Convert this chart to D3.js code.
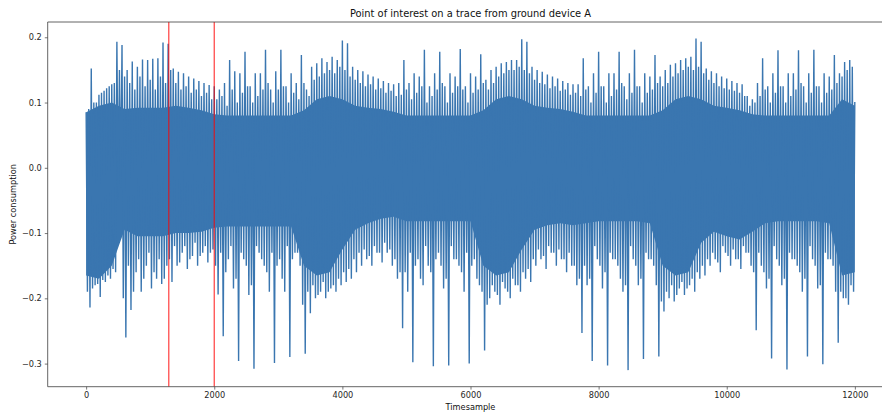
<!DOCTYPE html>
<html><head><meta charset="utf-8">
<script src="https://cdn.jsdelivr.net/npm/d3@7"></script>
<style>
body{margin:0;background:#fff}
svg{display:block;font-family:"DejaVu Sans",sans-serif}
</style>
</head><body>
<svg id="chart" width="882" height="414"></svg>
<script>
// ---------- data ----------
const chartTitle = "Point of interest on a trace from ground device A";
const xLabel = "Timesample";
const yLabel = "Power consumption";
const sampleCount = 12000;
const bucketSize = 80; // per bucket: peak @0, midTrough @20, midPeak @40, trough @60

// tallest upward excursion of each 80-sample bucket
const peaks = [
  0.085, 0.152, 0.100, 0.115, 0.122, 0.128, 0.193, 0.188,
  0.150, 0.163, 0.155, 0.166, 0.165, 0.167, 0.168, 0.192, 0.190,
  0.152, 0.147, 0.145, 0.140, 0.137, 0.133, 0.130, 0.127,
  0.125, 0.120, 0.130, 0.165, 0.148, 0.145, 0.178, 0.125, 0.145, 0.145, 0.181, 0.120, 0.148, 0.181, 0.125, 0.145, 0.130,
  0.173, 0.120, 0.155, 0.160, 0.168, 0.162, 0.170, 0.165, 0.195, 0.191,
  0.155, 0.150, 0.148, 0.143, 0.140, 0.137, 0.133, 0.130, 0.128, 0.130,
  0.165, 0.130, 0.145, 0.140, 0.181, 0.125, 0.145, 0.178, 0.125, 0.145, 0.140, 0.182, 0.125, 0.145, 0.140, 0.174,
  0.135, 0.150, 0.155, 0.160, 0.162, 0.165, 0.165, 0.197, 0.193,
  0.155, 0.150, 0.147, 0.143, 0.140, 0.137, 0.133, 0.130, 0.128, 0.128,
  0.168, 0.125, 0.145, 0.178, 0.125, 0.145, 0.145, 0.178, 0.125, 0.145, 0.181, 0.125, 0.145, 0.140, 0.173,
  0.140, 0.150, 0.158, 0.160, 0.165, 0.168, 0.170, 0.198, 0.193,
  0.152, 0.148, 0.145, 0.140, 0.137, 0.133, 0.130, 0.128, 0.110, 0.105,
  0.130, 0.168, 0.125, 0.145, 0.180, 0.125, 0.145, 0.145, 0.180, 0.125, 0.145, 0.181, 0.125, 0.145, 0.140, 0.173,
  0.145, 0.162, 0.165, 0.101
];

// secondary (fringe) upward excursion of each bucket
const midPeaks = [
  0.090, 0.100, 0.112, 0.118, 0.125, 0.130, 0.150, 0.140,
  0.130, 0.120, 0.140, 0.125, 0.135, 0.120, 0.140, 0.130, 0.150,
  0.130, 0.120, 0.125, 0.115, 0.120, 0.110, 0.115, 0.105,
  0.105, 0.110, 0.095, 0.120, 0.100, 0.115, 0.125, 0.100, 0.110, 0.120, 0.130, 0.100, 0.120, 0.125, 0.100, 0.115, 0.105,
  0.130, 0.110, 0.135, 0.140, 0.145, 0.150, 0.145, 0.155, 0.150, 0.140,
  0.135, 0.130, 0.125, 0.128, 0.120, 0.122, 0.115, 0.118, 0.110, 0.112,
  0.120, 0.105, 0.115, 0.125, 0.100, 0.110, 0.120, 0.130, 0.100, 0.115, 0.125, 0.120, 0.100, 0.115, 0.120, 0.130,
  0.120, 0.130, 0.140, 0.145, 0.150, 0.150, 0.155, 0.150, 0.145,
  0.135, 0.130, 0.128, 0.122, 0.125, 0.118, 0.120, 0.112, 0.115, 0.110,
  0.120, 0.100, 0.115, 0.125, 0.100, 0.110, 0.120, 0.130, 0.105, 0.115, 0.125, 0.100, 0.115, 0.120, 0.130,
  0.125, 0.130, 0.140, 0.145, 0.150, 0.155, 0.150, 0.155, 0.145,
  0.135, 0.130, 0.125, 0.122, 0.120, 0.118, 0.115, 0.110, 0.095, 0.100,
  0.110, 0.120, 0.100, 0.115, 0.125, 0.100, 0.110, 0.120, 0.130, 0.100, 0.115, 0.125, 0.100, 0.115, 0.120, 0.130,
  0.140, 0.150, 0.155
];

// secondary (fringe) downward excursion of each bucket
const midTroughs = [
  -0.190, -0.185, -0.178, -0.172, -0.165, -0.155, -0.050, -0.200,
  -0.150, -0.190, -0.140, -0.170, -0.130, -0.160, -0.140, -0.170, -0.140,
  -0.120, -0.145, -0.120, -0.140, -0.115, -0.135, -0.120, -0.130,
  -0.150, -0.130, -0.160, -0.120, -0.170, -0.130, -0.150, -0.180, -0.120, -0.140, -0.160, -0.130, -0.150, -0.170, -0.120, -0.140, -0.130,
  -0.210, -0.190, -0.180, -0.195, -0.175, -0.190, -0.180, -0.170, -0.160, -0.155,
  -0.140, -0.130, -0.125, -0.135, -0.120, -0.130, -0.115, -0.125, -0.140, -0.160,
  -0.160, -0.130, -0.150, -0.170, -0.120, -0.160, -0.140, -0.150, -0.170, -0.120, -0.140, -0.160, -0.130, -0.150, -0.170, -0.190,
  -0.210, -0.180, -0.195, -0.175, -0.190, -0.170, -0.180, -0.160, -0.155,
  -0.140, -0.125, -0.135, -0.120, -0.130, -0.125, -0.140, -0.130, -0.150, -0.170,
  -0.150, -0.170, -0.120, -0.150, -0.160, -0.130, -0.140, -0.170, -0.180, -0.120, -0.150, -0.170, -0.130, -0.140, -0.180,
  -0.205, -0.190, -0.180, -0.195, -0.175, -0.185, -0.170, -0.160, -0.150,
  -0.140, -0.130, -0.145, -0.120, -0.135, -0.125, -0.140, -0.120, -0.130, -0.160,
  -0.130, -0.160, -0.170, -0.120, -0.150, -0.170, -0.130, -0.140, -0.160, -0.170, -0.120, -0.150, -0.180, -0.130, -0.140, -0.190,
  -0.190, -0.200, -0.180
];

// deepest downward excursion of each bucket
const troughs = [
  -0.214, -0.180, -0.198, -0.175, -0.170, -0.160, -0.030, -0.260,
  -0.218, -0.160, -0.190, -0.150, -0.185, -0.170, -0.178, -0.150, -0.175,
  -0.150, -0.130, -0.155, -0.135, -0.150, -0.130, -0.145, -0.125,
  -0.194, -0.258, -0.140, -0.185, -0.296, -0.140, -0.195, -0.308, -0.130, -0.150, -0.190, -0.299, -0.140, -0.190, -0.290, -0.130, -0.150,
  -0.285, -0.223, -0.200, -0.190, -0.200, -0.185, -0.190, -0.180, -0.175, -0.170,
  -0.160, -0.150, -0.140, -0.150, -0.130, -0.145, -0.130, -0.150, -0.170, -0.246,
  -0.190, -0.298, -0.140, -0.180, -0.150, -0.304, -0.130, -0.185, -0.303, -0.140, -0.150, -0.190, -0.300, -0.140, -0.180, -0.280,
  -0.200, -0.190, -0.210, -0.185, -0.200, -0.180, -0.190, -0.170, -0.175,
  -0.150, -0.140, -0.155, -0.130, -0.150, -0.140, -0.160, -0.150, -0.180, -0.253,
  -0.180, -0.296, -0.140, -0.185, -0.303, -0.140, -0.150, -0.190, -0.310, -0.140, -0.180, -0.293, -0.140, -0.150, -0.289,
  -0.220, -0.200, -0.205, -0.185, -0.195, -0.180, -0.190, -0.170, -0.165,
  -0.150, -0.140, -0.160, -0.130, -0.150, -0.140, -0.155, -0.130, -0.150, -0.249,
  -0.150, -0.185, -0.292, -0.140, -0.180, -0.309, -0.140, -0.150, -0.190, -0.289, -0.140, -0.185, -0.301, -0.140, -0.150, -0.268,
  -0.200, -0.210, -0.190
];

// solid core of the trace, every 200 samples
const coreStep = 200;
const coreHi = [
  0.085, 0.095, 0.100, 0.090, 0.092, 0.092, 0.092, 0.095, 0.092, 0.088, 0.082,
  0.080, 0.080, 0.080, 0.080, 0.080, 0.080, 0.088, 0.105, 0.110, 0.105,
  0.095, 0.092, 0.090, 0.086, 0.080, 0.080, 0.080, 0.080, 0.080, 0.080,
  0.088, 0.105, 0.110, 0.105, 0.095, 0.092, 0.090, 0.086, 0.080, 0.080,
  0.080, 0.080, 0.080, 0.080, 0.088, 0.105, 0.110, 0.105, 0.095, 0.092,
  0.088, 0.082, 0.080, 0.080, 0.080, 0.080, 0.080, 0.080, 0.105, 0.095
];
const coreLo = [
  -0.165, -0.170, -0.150, -0.095, -0.105, -0.105, -0.105, -0.100, -0.100, -0.098, -0.092,
  -0.090, -0.090, -0.090, -0.090, -0.090, -0.090, -0.150, -0.165, -0.160, -0.125,
  -0.095, -0.085, -0.078, -0.075, -0.082, -0.082, -0.082, -0.082, -0.082, -0.082,
  -0.150, -0.165, -0.160, -0.125, -0.095, -0.088, -0.085, -0.088, -0.085, -0.082,
  -0.082, -0.082, -0.082, -0.085, -0.150, -0.165, -0.160, -0.115, -0.098, -0.105,
  -0.110, -0.098, -0.085, -0.082, -0.082, -0.082, -0.082, -0.085, -0.165, -0.160
];

const markerSamples = [1290, 2000];
const xTicks = [0, 2000, 4000, 6000, 8000, 10000, 12000];
const yTicks = [-0.3, -0.2, -0.1, 0.0, 0.1, 0.2];

// ---------- layout ----------
const W = 882, H = 414;
const plot = {left: 47.7, top: 22, right: 893.3, bottom: 386.7};
const traceColor = "#3a76b0";

// build the trace: four excursions per bucket
const trace = [];
peaks.forEach((v, k) => {
  const s0 = k * bucketSize;
  trace.push({s: Math.min(s0, sampleCount - 1), v});
  if (k < troughs.length) {
    trace.push({s: s0 + bucketSize * 0.25, v: midTroughs[k]});
    trace.push({s: s0 + bucketSize * 0.5, v: midPeaks[k]});
    trace.push({s: s0 + bucketSize * 0.75, v: troughs[k]});
  }
});
const core = coreHi.map((h, i) => ({s: Math.min(i * coreStep, sampleCount - 1), hi: h, lo: coreLo[i]}));

// matplotlib-like 5% margins
const xMin = 0, xMax = sampleCount;
const xPad = (xMax - xMin) * 0.05;
const vMin = d3.min(troughs), vMax = d3.max(peaks);
const yPad = (vMax - vMin) * 0.05;

const x = d3.scaleLinear().domain([xMin - xPad, xMax + xPad]).range([plot.left, plot.right]);
const y = d3.scaleLinear().domain([vMin - yPad, vMax + yPad]).range([plot.bottom, plot.top]);

const svg = d3.select("#chart");
svg.append("rect").attr("width", W).attr("height", H).attr("fill", "#fff");

svg.append("defs").append("clipPath").attr("id", "clip")
  .append("rect").attr("x", plot.left).attr("y", plot.top)
  .attr("width", plot.right - plot.left).attr("height", plot.bottom - plot.top);

const g = svg.append("g").attr("clip-path", "url(#clip)");

g.append("path").datum(core)
  .attr("fill", traceColor)
  .attr("d", d3.area().x(d => x(d.s)).y0(d => y(d.lo)).y1(d => y(d.hi)));

g.append("path").datum(trace)
  .attr("fill", "none")
  .attr("stroke", traceColor)
  .attr("stroke-width", 1.4)
  .attr("stroke-linejoin", "miter")
  .attr("stroke-miterlimit", 2)
  .attr("d", d3.line().x(d => x(d.s)).y(d => y(d.v)));

g.selectAll("line.marker").data(markerSamples).join("line")
  .attr("class", "marker")
  .attr("x1", d => x(d)).attr("x2", d => x(d))
  .attr("y1", plot.top).attr("y2", plot.bottom)
  .attr("stroke", "#ff0000").attr("stroke-opacity", 0.7).attr("stroke-width", 1.3);

// axes
const tickColor = "#262626";
const xAxis = svg.append("g").attr("transform", `translate(0,${plot.bottom})`)
  .call(d3.axisBottom(x).tickValues(xTicks).tickFormat(d3.format("d")).tickSize(2.9).tickPadding(3).tickSizeOuter(0));
const yAxis = svg.append("g").attr("transform", `translate(${plot.left},0)`)
  .call(d3.axisLeft(y).tickValues(yTicks).tickFormat(d3.format(".1f")).tickSize(2.9).tickPadding(3).tickSizeOuter(0));
[xAxis, yAxis].forEach(a => {
  a.select(".domain").remove();
  a.selectAll(".tick line").attr("stroke", "#3d3d3d").attr("stroke-width", 0.7);
  a.selectAll(".tick text").attr("fill", tickColor).attr("font-size", 8.2)
    .attr("font-family", '"DejaVu Sans", sans-serif');
});

// spines
const spine = svg.append("g").attr("stroke", "#3d3d3d").attr("stroke-width", 0.8);
spine.append("line").attr("x1", plot.left).attr("x2", plot.left).attr("y1", plot.top).attr("y2", plot.bottom);
spine.append("line").attr("x1", plot.left).attr("x2", plot.right).attr("y1", plot.top).attr("y2", plot.top);
spine.append("line").attr("x1", plot.left).attr("x2", plot.right).attr("y1", plot.bottom).attr("y2", plot.bottom);
spine.append("line").attr("x1", plot.right).attr("x2", plot.right).attr("y1", plot.top).attr("y2", plot.bottom);

const cx = (plot.left + plot.right) / 2;
svg.append("text").attr("x", cx).attr("y", 16.5).attr("text-anchor", "middle")
  .attr("font-size", 9.9).attr("fill", "#111").text(chartTitle);
svg.append("text").attr("x", cx).attr("y", 410).attr("text-anchor", "middle")
  .attr("font-size", 8.2).attr("fill", "#111").text(xLabel);
svg.append("text").attr("transform", `translate(15.5,${(plot.top + plot.bottom) / 2}) rotate(-90)`)
  .attr("text-anchor", "middle").attr("font-size", 8.2).attr("fill", "#111").text(yLabel);
</script>
</body></html>
